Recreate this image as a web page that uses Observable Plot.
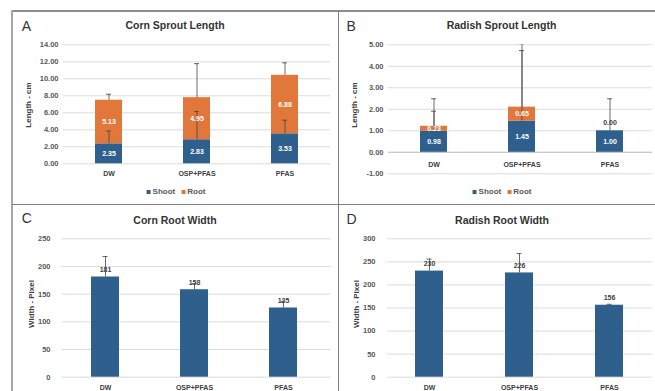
<!DOCTYPE html>
<html>
<head>
<meta charset="utf-8">
<script src="https://cdn.jsdelivr.net/npm/d3@7"></script>
<script src="https://cdn.jsdelivr.net/npm/@observablehq/plot@0.6"></script>
<style>
  body { margin: 0; background: #fff; font-family: "Liberation Sans", Arial, sans-serif; }
  #wrap { position: relative; width: 655px; height: 391px; overflow: hidden; background: #fff; }
  #wrap svg { position: absolute; left: 0; top: 0; }
  .abs { position: absolute; white-space: nowrap; line-height: 1; }
  .letter { font-size: 14px; color: #333; font-weight: normal; }
  .title { font-size: 10.5px; font-weight: bold; color: #333; transform: translateX(-50%); }
  .ytitle { font-size: 8px; font-weight: bold; color: #404040; transform: translate(-50%, -50%) rotate(-90deg); }
  .legend { font-size: 8px; font-weight: bold; color: #595959; display: flex; align-items: center; transform: translate(-50%, -50%); }
  .legend .sw { display: inline-block; width: 4px; height: 4px; margin-right: 2px; }
  .legend .gap { display: inline-block; width: 6px; }
  .line { position: absolute; }
</style>
</head>
<body>
<div id="wrap"></div>
<script>
// ---------------- data ----------------
const categories = ["DW", "OSP+PFAS", "PFAS"];
const seriesNames = ["Shoot", "Root"];

// A: Corn Sprout Length (cm)
const cornShoot = [2.35, 2.83, 3.53];
const cornRoot = [5.13, 4.95, 6.88];
const cornShootErr = [1.5, 3.32, 1.6];
const cornRootErr = [0.7, 4.0, 1.47];
const cornLengthTicks = [0, 2, 4, 6, 8, 10, 12, 14];

// B: Radish Sprout Length (cm)
const radishShoot = [0.98, 1.45, 1.00];
const radishRoot = [0.23, 0.65, 0.00];
const radishShootErr = [0.93, 3.6, 0];
const radishRootErr = [1.28, 2.63, 1.49];
const radishLengthTicks = [-1, 0, 1, 2, 3, 4, 5];

// C: Corn Root Width (pixel)
const cornWidth = [181, 158, 125];
const cornWidthErr = [37, 11, 12];
const cornWidthTicks = [0, 50, 100, 150, 200, 250];

// D: Radish Root Width (pixel)
const radishWidth = [230, 226, 156];
const radishWidthErr = [26, 42, 2];
const radishWidthTicks = [0, 50, 100, 150, 200, 250, 300];

// ---------------- styling ----------------
const W = 655, H = 391;
const BLUE = "#2f5f8c", ORANGE = "#e2773b";
const GRID = "#dcdcdc", TICK = "#595959", DARK = "#404040", ERR = "#454545";
const FONT = '"Liberation Sans", Arial, sans-serif';
const wrap = document.getElementById("wrap");

function baseStyle() {
  return { fontFamily: FONT, fontWeight: "bold", fontSize: "7px", overflow: "visible" };
}

function stackedPanel(o) {
  const rows = categories.flatMap((c, i) => [
    { cat: c, series: "Shoot", value: o.shoot[i], mid: o.shoot[i] / 2 },
    { cat: c, series: "Root", value: o.root[i], mid: o.shoot[i] + o.root[i] / 2 }
  ]);
  const errs = categories.flatMap((c, i) => [
    { cat: c, y1: o.shoot[i], y2: o.shoot[i] + o.shootErr[i] },
    { cat: c, y1: o.shoot[i] + o.root[i], y2: o.shoot[i] + o.root[i] + o.rootErr[i] }
  ]).filter(d => d.y2 > d.y1);
  return Plot.plot({
    width: W, height: H,
    marginLeft: o.frame[0], marginRight: W - o.frame[1],
    marginTop: o.yRange[1], marginBottom: H - o.yRange[0],
    style: baseStyle(),
    x: { type: "band", domain: categories, range: o.xRange, paddingInner: 0.69, paddingOuter: 0.345, axis: null },
    y: { domain: o.yDomain, range: o.yRange },
    color: { domain: seriesNames, range: [BLUE, ORANGE] },
    marks: [
      Plot.gridY(o.ticks, { stroke: GRID, strokeOpacity: 1 }),
      o.zeroLine ? Plot.ruleY([0], { stroke: "#c4c4c4" }) : null,
      Plot.axisY(o.ticks, { tickSize: 0, tickPadding: o.tickPad, tickFormat: d => d.toFixed(2), color: TICK, fontSize: 7.5, label: null }),
      Plot.text(categories, { x: d => d, y: () => 0, dy: o.xLabelDy, fill: DARK, fontSize: 7 }),
      Plot.barY(rows, { x: "cat", y: "value", fill: "series" }),
      Plot.ruleX(errs, { x: "cat", y1: "y1", y2: "y2", stroke: ERR, strokeWidth: 0.8, clip: "frame" }),
      Plot.tickY(errs, { x: "cat", y: "y2", stroke: ERR, strokeWidth: 0.8, insetLeft: 11, insetRight: 11, clip: "frame" }),
      Plot.text(rows.filter(d => d.value > 0), { x: "cat", y: "mid", text: d => d.value.toFixed(2), fill: "white", fontSize: 7 }),
      Plot.text(rows.filter(d => d.value === 0), { x: "cat", y: "mid", text: d => d.value.toFixed(2), fill: DARK, fontSize: 7, dy: -8 })
    ]
  });
}

function singlePanel(o) {
  const rows = categories.map((c, i) => ({ cat: c, value: o.values[i], top: o.values[i] + o.errs[i] }));
  return Plot.plot({
    width: W, height: H,
    marginLeft: o.frame[0], marginRight: W - o.frame[1],
    marginTop: o.yRange[1], marginBottom: H - o.yRange[0],
    style: baseStyle(),
    x: { type: "band", domain: categories, range: o.xRange, paddingInner: 0.69, paddingOuter: 0.345, axis: null },
    y: { domain: o.yDomain, range: o.yRange },
    marks: [
      Plot.gridY(o.ticks, { stroke: GRID, strokeOpacity: 1 }),
      Plot.axisY(o.ticks, { tickSize: 0, tickPadding: o.tickPad, tickFormat: d => String(d), color: TICK, fontSize: 7.5, label: null }),
      Plot.text(categories, { x: d => d, y: () => 0, dy: o.xLabelDy, fill: DARK, fontSize: 7 }),
      Plot.barY(rows, { x: "cat", y: "value", fill: BLUE }),
      Plot.ruleX(rows, { x: "cat", y1: "value", y2: "top", stroke: ERR, strokeWidth: 0.8 }),
      Plot.tickY(rows, { x: "cat", y: "top", stroke: ERR, strokeWidth: 0.8, insetLeft: 11.5, insetRight: 11.5 }),
      Plot.text(rows, { x: "cat", y: "value", text: d => String(d.value), fill: DARK, fontSize: 7, lineAnchor: "bottom", dy: -5 })
    ]
  });
}

wrap.appendChild(stackedPanel({
  shoot: cornShoot, root: cornRoot, shootErr: cornShootErr, rootErr: cornRootErr,
  ticks: cornLengthTicks, yDomain: [0, 14], yRange: [163.3, 44.3],
  xRange: [65, 329], frame: [63, 330], tickPad: 5, xLabelDy: 9.7, zeroLine: false
}));
wrap.appendChild(stackedPanel({
  shoot: radishShoot, root: radishRoot, shootErr: radishShootErr, rootErr: radishRootErr,
  ticks: radishLengthTicks, yDomain: [-1, 5], yRange: [173.3, 44.3],
  xRange: [389, 653.6], frame: [388, 652], tickPad: 5, xLabelDy: 12.5, zeroLine: true
}));
wrap.appendChild(singlePanel({
  values: cornWidth, errs: cornWidthErr,
  ticks: cornWidthTicks, yDomain: [0, 250], yRange: [376.7, 238.3],
  xRange: [58.7, 328.4], frame: [62, 330], tickPad: 12, xLabelDy: 11
}));
wrap.appendChild(singlePanel({
  values: radishWidth, errs: radishWidthErr,
  ticks: radishWidthTicks, yDomain: [0, 300], yRange: [376.7, 238.3],
  xRange: [383.5, 653.5], frame: [387, 652], tickPad: 12, xLabelDy: 11
}));

// ---------------- html overlay: borders, letters, titles, legends ----------------
function add(html) { wrap.insertAdjacentHTML("beforeend", html); }
add(`<div class="line" style="left:12px;top:10px;width:643px;height:1.5px;background:#8c8c8c"></div>`);
add(`<div class="line" style="left:11px;top:10px;width:1.5px;height:381px;background:#a6a6a6"></div>`);
add(`<div class="line" style="left:337.5px;top:10px;width:1.5px;height:381px;background:#808080"></div>`);
add(`<div class="line" style="left:12px;top:203.5px;width:643px;height:1.5px;background:#808080"></div>`);

const panels = [
  { letter: "A", lx: 21.7, lb: 30.7, title: "Corn Sprout Length", tx: 175, tb: 29.3, ytitle: "Length - cm", yx: 29.3, yy: 105, legend: [176, 192] },
  { letter: "B", lx: 346.5, lb: 30.7, title: "Radish Sprout Length", tx: 501.5, tb: 29.3, ytitle: "Length - cm", yx: 355, yy: 105, legend: [502, 192] },
  { letter: "C", lx: 21.7, lb: 223.3, title: "Corn Root Width", tx: 175, tb: 224, ytitle: "Width - Pixel", yx: 31.7, yy: 304 },
  { letter: "D", lx: 346.5, lb: 223.5, title: "Radish Root Width", tx: 502, tb: 224, ytitle: "Width - Pixel", yx: 356.7, yy: 304 }
];
for (const p of panels) {
  add(`<div class="abs letter" style="left:${p.lx}px;top:${p.lb - 0.8465 * 14}px">${p.letter}</div>`);
  add(`<div class="abs title" style="left:${p.tx}px;top:${p.tb - 0.8465 * 10.5}px">${p.title}</div>`);
  add(`<div class="abs ytitle" style="left:${p.yx}px;top:${p.yy}px">${p.ytitle}</div>`);
  if (p.legend) {
    add(`<div class="abs legend" style="left:${p.legend[0]}px;top:${p.legend[1]}px">` +
      `<span class="sw" style="background:${BLUE}"></span>${seriesNames[0]}<span class="gap"></span>` +
      `<span class="sw" style="background:${ORANGE}"></span>${seriesNames[1]}</div>`);
  }
}
</script>
</body>
</html>
